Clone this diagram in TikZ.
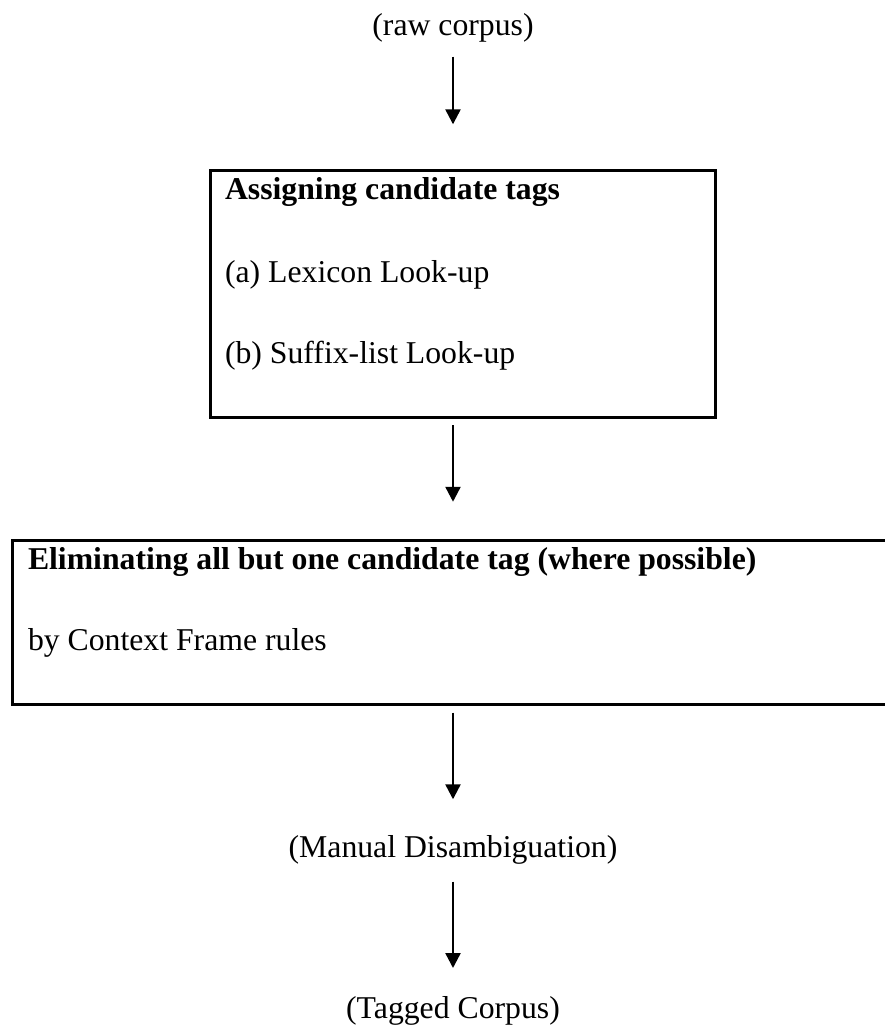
\documentclass[tikz,border=0pt]{standalone}
\usepackage{fontspec}
\setmainfont{Liberation Serif}
\usetikzlibrary{arrows.meta}
\begin{document}
\begin{tikzpicture}[x=0.75pt,y=-0.75pt,
  txt/.style={inner sep=0pt, outer sep=0pt, font=\fontsize{23.8pt}{28pt}\selectfont},
  lbl/.style={txt, anchor=base west},
  ctr/.style={txt, anchor=base},
  frame/.style={draw, line width=2.25pt, rectangle, inner sep=0pt, outer sep=0pt},
  arr/.style={line width=1.8pt, -{Triangle[length=11.25pt,width=11.25pt]}}]
\useasboundingbox (0,0) rectangle (885,1026);
\clip (0,0) rectangle (885,1026);
% top label
\node[ctr] (raw) at (453,35) {(raw corpus)};
% box 1
\node[frame, minimum width=378.75pt, minimum height=185.25pt] (box1) at (463.2,294.2) {};
\node[lbl] (t1) at (225,199) {\bfseries Assigning candidate tags};
\node[lbl] (t2) at (225,282) {(a) Lexicon Look-up};
\node[lbl] (t3) at (225,363) {(b) Suffix-list Look-up};
% box 2
\node[frame, minimum width=661.7pt, minimum height=123.2pt] (box2) at (453.85,622.15) {};
\node[lbl] (t4) at (28,569) {\bfseries Eliminating all but one candidate tag (where possible)};
\node[lbl] (t5) at (28,650) {by Context Frame rules};
% lower labels
\node[ctr] (man) at (453,857) {(Manual Disambiguation)};
\node[ctr] (tag) at (453,1018) {(Tagged Corpus)};
% arrows
\draw[arr, shorten <=16.3pt, shorten >=34.8pt] (raw.base) -- (raw.base |- box1.north);
\draw[arr, shorten <=5.5pt, shorten >=28.7pt] (raw.base |- box1.south) -- (raw.base |- box2.north);
\draw[arr, shorten <=6.3pt, shorten >=43.3pt] (raw.base |- box2.south) -- (man.base);
\draw[arr, shorten <=18.5pt, shorten >=37.5pt] (man.base) -- (tag.base);
\end{tikzpicture}
\end{document}
